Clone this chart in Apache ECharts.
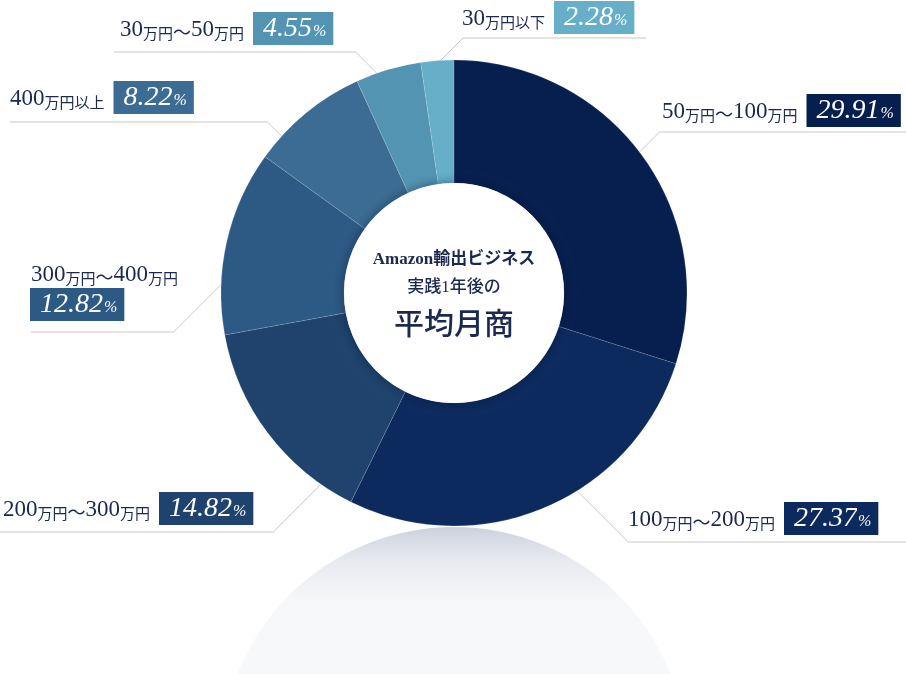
<!DOCTYPE html>
<html><head><meta charset="utf-8">
<script src="https://cdn.jsdelivr.net/npm/echarts@6/dist/echarts.min.js"></script>
<style>html,body{margin:0;padding:0;background:#fff}#c{width:906px;height:674px}</style>
</head><body><div id="c"></div>
<script>
// ---- data ----
const categories = ['50万円～100万円','100万円～200万円','200万円～300万円','300万円～400万円','400万円以上','30万円～50万円','30万円以下'];
const shares = [29.91, 27.37, 14.82, 12.82, 8.22, 4.55, 2.28];
const centerLines = ['Amazon輸出ビジネス', '実践1年後の', '平均月商'];

// ---- styles / layout (kept separate from the data) ----
const colors = ['#071f4f', '#0d2a5e', '#1f436d', '#2d5a85', '#3c6c93', '#5394b3', '#67afc9'];
const CX = 454, CY = 293, R0 = 110, R1 = 233;
const labelSpots = [
  {x: 662, y: 95,  lineY: 132, endX: 906, t: 0.49},
  {x: 628, y: 503, lineY: 542, endX: 906, t: 0.41},
  {x: 3,   y: 493, lineY: 532, endX: 0,   t: 0.16},
  {x: 31,  y: 263, lineY: 332, endX: 31,  t: 0.27, twoLine: true},
  {x: 10,  y: 82,  lineY: 122, endX: 10,  t: 0.22},
  {x: 120, y: 13,  lineY: 52,  endX: 114, t: 0.32},
  {x: 462, y: 2,   lineY: 38,  endX: 646, t: 0.60}
];
const INK = '#1b2850';
const SERIF = "'Liberation Serif', 'DejaVu Serif', 'Noto Sans CJK JP', serif";
const CJK = "'Noto Sans CJK JP', sans-serif";

const total = shares.reduce((a, b) => a + b, 0);
const cum = [];
shares.reduce((acc, v, i) => { cum[i] = acc; return acc + v; }, 0);

const rich = {
  d: {fontFamily: SERIF, fontSize: 23, color: INK, lineHeight: 26, verticalAlign: 'bottom', padding: [0, 0, 3, 0]},
  k: {fontFamily: CJK, fontSize: 15, color: INK, lineHeight: 22, verticalAlign: 'bottom', padding: [0, 0, 3, 0]},
  t: {fontFamily: CJK, fontSize: 18, color: INK, lineHeight: 22, verticalAlign: 'bottom', padding: [0, 0, 3, 0]},
  g: {width: 10, fontSize: 10, lineHeight: 10}
};
colors.forEach((c, i) => {
  rich['v' + i] = {fontFamily: SERIF, fontStyle: 'italic', fontSize: 28, color: '#fff', backgroundColor: c,
                   borderColor: c, borderWidth: 1,
                   lineHeight: 31, height: 31, padding: [0, 1, 0, 9], verticalAlign: 'bottom'};
  rich['p' + i] = {fontFamily: SERIF, fontStyle: 'italic', fontSize: 16, color: '#fff', backgroundColor: c,
                   borderColor: c, borderWidth: 1,
                   lineHeight: 25, height: 25, padding: [6, 6, 0, 0], verticalAlign: 'bottom'};
});

function nameTokens(name) {
  return name.split(/(\d+|～)/).filter(s => s).map(s =>
    /\d/.test(s) ? '{d|' + s + '}' : (s === '～' ? '{t|～}' : '{k|' + s + '}')).join('');
}

const chart = echarts.init(document.getElementById('c'), null, {renderer: 'canvas'});
chart.setOption({
  animation: false,
  backgroundColor: '#fff',
  graphic: [
    {type: 'circle', z: 0, silent: true, shape: {cx: CX, cy: CY + 2 * R1 + 1, r: R1},
     style: {fill: new echarts.graphic.LinearGradient(0, 0, 0, 1, [
       {offset: 0, color: 'rgba(14,42,94,0.21)'},
       {offset: 0.07, color: 'rgba(14,42,94,0.10)'},
       {offset: 0.16, color: 'rgba(14,42,94,0.035)'},
       {offset: 1, color: 'rgba(14,42,94,0.015)'}])}},
    {type: 'circle', z: 10, silent: true, shape: {cx: CX, cy: CY, r: R0},
     style: {fill: '#fff', shadowBlur: 12, shadowColor: 'rgba(0,10,40,0.45)'}},
    {type: 'text', z: 11, silent: true, x: CX, y: 260,
     style: {text: centerLines[0], font: "bold 17px 'Liberation Serif', 'Noto Sans CJK JP'", fill: INK, align: 'center', verticalAlign: 'middle'}},
    {type: 'text', z: 11, silent: true, x: CX, y: 288,
     style: {text: centerLines[1], font: "500 17px 'Liberation Serif', 'Noto Sans CJK JP'", fill: INK, align: 'center', verticalAlign: 'middle'}},
    {type: 'text', z: 11, silent: true, x: CX, y: 323,
     style: {text: centerLines[2], font: "500 30px 'Noto Sans CJK JP'", fill: INK, align: 'center', verticalAlign: 'middle'}}
  ],
  series: [{
    type: 'pie',
    center: [CX, CY],
    radius: [R0, R1],
    startAngle: 90,
    clockwise: true,
    avoidLabelOverlap: false,
    emphasis: {disabled: true},
    itemStyle: {borderColor: 'rgba(255,255,255,0.22)', borderWidth: 0.6},
    data: categories.map((n, i) => ({name: n, value: shares[i], itemStyle: {color: colors[i]}})),
    label: {
      show: true,
      position: 'outside',
      rich: rich,
      formatter: p => {
        const i = p.dataIndex;
        const box = '{v' + i + '|' + shares[i].toFixed(2) + '}{p' + i + '|%}';
        return labelSpots[i].twoLine ? nameTokens(p.name) + '\n' + box : nameTokens(p.name) + '{g| }' + box;
      }
    },
    labelLine: {show: true, smooth: false, lineStyle: {color: '#c9c9c9', width: 1}},
    labelLayout: params => {
      const i = params.dataIndex;
      const L = labelSpots[i];
      const a = (cum[i] + L.t * shares[i]) / total * Math.PI * 2;
      const x0 = CX + R1 * Math.sin(a), y0 = CY - R1 * Math.cos(a);
      const dir = L.endX > x0 ? 1 : -1;
      const bx = x0 + dir * Math.abs(L.lineY - y0);
      return {
        x: L.x, y: L.y, align: 'left', verticalAlign: 'top',
        labelLinePoints: [[x0, y0], [bx, L.lineY], [L.endX, L.lineY]]
      };
    }
  }]
});
</script></body></html>
